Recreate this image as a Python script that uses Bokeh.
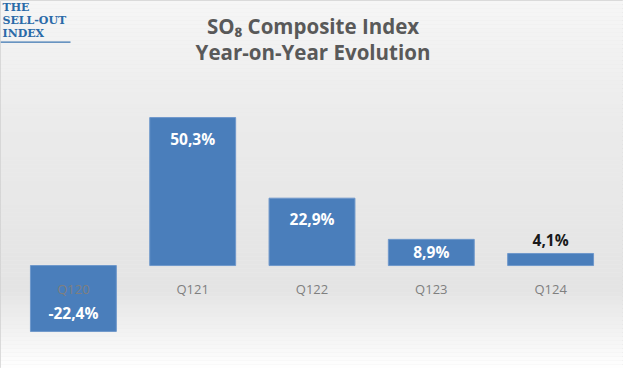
from bokeh.plotting import figure
from bokeh.models import FactorRange, Range1d, BoxAnnotation, Label, ColumnDataSource
from bokeh.core.properties import value
from bokeh.embed import file_html
from bokeh.resources import INLINE

quarters = ["Q120", "Q121", "Q122", "Q123", "Q124"]
yoy = [-22.4, 50.3, 22.9, 8.9, 4.1]
yoy_labels = ["-22,4%", "50,3%", "22,9%", "8,9%", "4,1%"]

W, H = 623, 368
YMIN, YMAX = -35.0, 90.1
scale = H / (YMAX - YMIN)

p = figure(width=W, height=H, output_backend="svg", toolbar_location=None,
           x_range=FactorRange(factors=quarters, range_padding=0.111, range_padding_units="absolute"),
           y_range=Range1d(YMIN, YMAX),
           min_border_left=0, min_border_right=0, min_border_top=0, min_border_bottom=0)
p.axis.visible = False
p.grid.visible = False
p.outline_line_color = "#d0d0d0"
p.background_fill_color = "#eaeaea"
p.border_fill_color = "#eaeaea"

# background gradient (screen rows -> colors)
stops = [(0, 0xf6), (120, 0xeb), (290, 0xe4), (368, 0xff)]
def shade(sy):
    for (a, ca), (b, cb) in zip(stops[:-1], stops[1:]):
        if a <= sy <= b:
            t = (sy - a) / (b - a)
            return int(round(ca + (cb - ca) * t))
    return stops[-1][1]
step = 4
for sy in range(0, H, step):
    g = shade(sy + step / 2)
    col = "#%02x%02x%02x" % (g, g, g)
    p.add_layout(BoxAnnotation(top=YMAX - sy / scale, bottom=YMAX - (sy + step) / scale,
                               fill_color=col, fill_alpha=1.0, line_color=None, level="underlay"))

src = ColumnDataSource(dict(q=quarters, v=yoy, lab=yoy_labels, zero=[0] * len(yoy)))
p.vbar(x="q", top="v", bottom="zero", width=0.72, source=src,
       fill_color="#4a7ebb", line_color="#6f98cb", line_width=1)

# category labels just below the zero line
p.text(x="q", y="zero", text="q", source=src, y_offset=23,
       text_align="center", text_baseline="middle", text_color="#7f7f7f",
       text_font=value("Open Sans"), text_font_size="13px")

# value labels
offs, cols = [], []
for v in yoy:
    h = abs(v) * scale
    if v >= 0:
        if h > 20:
            offs.append(min(21, h / 2))
            cols.append("#ffffff")
        else:
            offs.append(-13)
            cols.append("#1a1a1a")
    else:
        offs.append(-18)
        cols.append("#ffffff")
src.data["off"] = offs
src.data["col"] = cols
p.text(x="q", y="v", text="lab", source=src, y_offset="off", text_color="col",
       text_align="center", text_baseline="middle", text_font_style="bold",
       text_font=value("Open Sans"), text_font_size="15.5px")

# title
for txt, sy in [("SO\u2088 Composite Index", 25), ("Year-on-Year Evolution", 51)]:
    p.add_layout(Label(x=W / 2 + 1, y=H - sy, x_units="screen", y_units="screen", text=txt,
                       text_align="center", text_baseline="middle", text_color="#595959",
                       text_font="Open Sans", text_font_style="bold", text_font_size="20.5px"))

# logo
for txt, sy in [("THE", 7), ("SELL-OUT", 20), ("INDEX", 33)]:
    p.add_layout(Label(x=2, y=H - sy, x_units="screen", y_units="screen", text=txt,
                       text_align="left", text_baseline="middle", text_color="#2a6aa8",
                       text_font="DejaVu Serif", text_font_style="bold", text_font_size="11px"))
p.add_layout(BoxAnnotation(left=0, right=70, top=H - 41, bottom=H - 42.2,
                           left_units="screen", right_units="screen",
                           top_units="screen", bottom_units="screen",
                           fill_color="#3a75b0", fill_alpha=1, line_color=None))

open("out.html", "w").write(file_html(p, INLINE))
